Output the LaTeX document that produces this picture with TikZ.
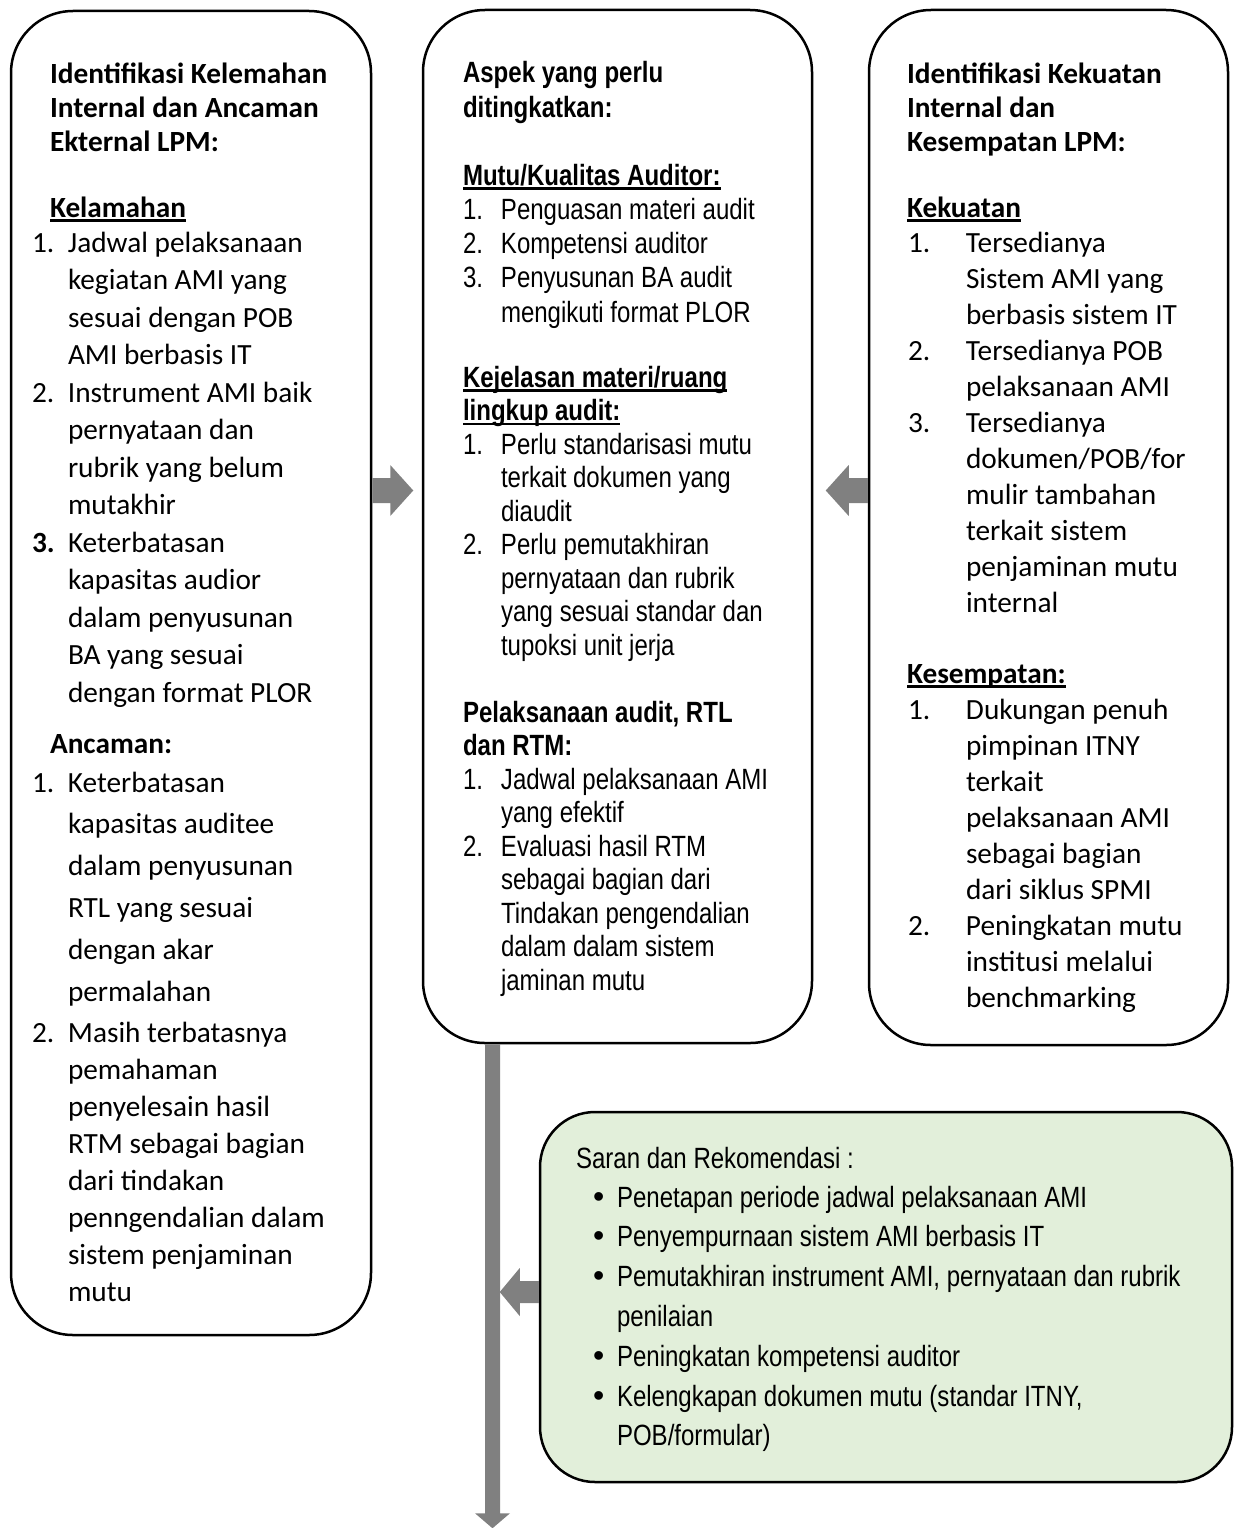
\documentclass[tikz,border=0pt]{standalone}
\usepackage{fontspec}
\setmainfont{Carlito}
\newfontfamily\arialn[FakeStretch=0.82]{Liberation Sans}
\newfontfamily\bulletfont{Liberation Sans}
\usetikzlibrary{calc}
\definecolor{arrowgray}{RGB}{128,128,128}
\definecolor{greenfill}{RGB}{226,239,218}
\newsavebox\ulbox
\newcommand\myul[1]{\sbox\ulbox{#1}\rlap{\rule[-4.5pt]{\wd\ulbox}{2.2pt}}\usebox\ulbox}
\newcommand\fl{\rule{0pt}{30pt}}
\newcommand\ind[1]{\hspace*{#1}}
\newcommand\bul{\makebox[23pt][l]{\hspace*{-1pt}\bulletfont\fontsize{32}{32}\selectfont •}}
\begin{document}
\begin{tikzpicture}[x=1pt,y=-1pt,
  box/.style={draw=black, line width=2.5pt, rounded corners=62pt, anchor=north west, inner sep=0pt, outer sep=0pt},
  cal/.style={anchor=north west, inner sep=0pt, outer sep=0pt, align=left, font=\fontsize{29.3}{#1}\selectfont},
  arn/.style={anchor=north west, inner sep=0pt, outer sep=0pt, align=left, font=\arialn\fontsize{29.3}{#1}\selectfont},
  blockarrow/.style={fill=arrowgray}]
\useasboundingbox (0,0) rectangle (1240,1528);

% boxes
\node[box, minimum width=360pt, minimum height=1324pt] (L) at (11,11) {};
\node[box, minimum width=389pt, minimum height=1033pt] (M) at (423,10) {};
\node[box, minimum width=359pt, minimum height=1035pt] (R) at (869,10) {};
\node[box, fill=greenfill, rounded corners=55pt, minimum width=692pt, minimum height=370pt] (G) at (540,1112) {};

% block arrows
\fill[blockarrow] ($(L.north east)+(1.25,467)$) -- ++(18,0) -- ++(0,-13) -- ++(23,25.5) -- ++(-23,25.5) -- ++(0,-13) -- ++(-18,0) -- cycle;
\fill[blockarrow] ($(R.north west)+(-1.25,468)$) -- ++(-19,0) -- ++(0,-13) -- ++(-23,25.5) -- ++(23,25.5) -- ++(0,-13) -- ++(19,0) -- cycle;
\fill[blockarrow] ($(M.south west)+(62,1.25)$) -- ++(15,0) -- ++(0,469) -- ++(10,0) -- ++(-17.5,15) -- ++(-17.5,-15) -- ++(10,0) -- cycle;
\fill[blockarrow] ($(G.north west)+(-1.25,169)$) -- ++(-19,0) -- ++(0,-13) -- ++(-20,24) -- ++(20,24) -- ++(0,-13) -- ++(19,0) -- cycle;

% left box text
\node[cal=34] (lh) at (50,53) {\fl\textbf{Identifikasi Kelemahan}\\\textbf{Internal dan Ancaman}\\\textbf{Ekternal LPM:}};
\node[cal=37.5] (lk) at (50,187) {\fl\textbf{\myul{Kelamahan}}};
\node[cal=37.5] (ll) at (32,222) {\fl\makebox[36pt][l]{1.}Jadwal pelaksanaan\\\ind{36pt}kegiatan AMI yang\\\ind{36pt}sesuai dengan POB\\\ind{36pt}AMI berbasis IT\\
\makebox[36pt][l]{2.}Instrument AMI baik\\\ind{36pt}pernyataan dan\\\ind{36pt}rubrik yang belum\\\ind{36pt}mutakhir\\
\makebox[36pt][l]{\textbf{3.}}Keterbatasan\\\ind{36pt}kapasitas audior\\\ind{36pt}dalam penyusunan\\\ind{36pt}BA yang sesuai\\\ind{36pt}dengan format PLOR};
\node[cal=37.5] (la) at (50,723) {\fl\textbf{Ancaman:}};
\node[cal=41.8] (la1) at (32,762) {\fl\makebox[36pt][l]{1.}Keterbatasan\\\ind{36pt}kapasitas auditee\\\ind{36pt}dalam penyusunan\\\ind{36pt}RTL yang sesuai\\\ind{36pt}dengan akar\\\ind{36pt}permalahan};
\node[cal=37] (la2) at (32,1012) {\fl\makebox[36pt][l]{2.}Masih terbatasnya\\\ind{36pt}pemahaman\\\ind{36pt}penyelesain hasil\\\ind{36pt}RTM sebagai bagian\\\ind{36pt}dari tindakan\\\ind{36pt}penngendalian dalam\\\ind{36pt}sistem penjaminan\\\ind{36pt}mutu};

% middle box text
\node[arn=35] (mh) at (463,52) {\fl\textbf{Aspek yang perlu}\\\textbf{ditingkatkan:}};
\node[arn=34.3] (mq) at (463,155) {\fl\textbf{\myul{Mutu/Kualitas Auditor:}}\\
\makebox[38pt][l]{1.}Penguasan materi audit\\\makebox[38pt][l]{2.}Kompetensi auditor\\\makebox[38pt][l]{3.}Penyusunan BA audit\\\ind{38pt}mengikuti format PLOR};
\node[arn=33.5] (mk) at (463,357) {\fl\textbf{\myul{Kejelasan materi/ruang}}\\\textbf{\myul{lingkup audit:}}\\
\makebox[38pt][l]{1.}Perlu standarisasi mutu\\\ind{38pt}terkait dokumen yang\\\ind{38pt}diaudit\\
\makebox[38pt][l]{2.}Perlu pemutakhiran\\\ind{38pt}pernyataan dan rubrik\\\ind{38pt}yang sesuai standar dan\\\ind{38pt}tupoksi unit jerja};
\node[arn=33.5] (mp) at (463,692) {\fl\textbf{Pelaksanaan audit, RTL}\\\textbf{dan RTM:}\\
\makebox[38pt][l]{1.}Jadwal pelaksanaan AMI\\\ind{38pt}yang efektif\\
\makebox[38pt][l]{2.}Evaluasi hasil RTM\\\ind{38pt}sebagai bagian dari\\\ind{38pt}Tindakan pengendalian\\\ind{38pt}dalam dalam sistem\\\ind{38pt}jaminan mutu};

% right box text
\node[cal=34] (rh) at (907,53) {\fl\textbf{Identifikasi Kekuatan}\\\textbf{Internal dan}\\\textbf{Kesempatan LPM:}};
\node[cal=36] (rk) at (907,187) {\fl\textbf{\myul{Kekuatan}}};
\node[cal=36] (rl) at (908,222) {\fl\makebox[58pt][l]{1.}Tersedianya\\\ind{58pt}Sistem AMI yang\\\ind{58pt}berbasis sistem IT\\
\makebox[58pt][l]{2.}Tersedianya POB\\\ind{58pt}pelaksanaan AMI\\
\makebox[58pt][l]{3.}Tersedianya\\\ind{58pt}dokumen/POB/for\\\ind{58pt}mulir tambahan\\\ind{58pt}terkait sistem\\\ind{58pt}penjaminan mutu\\\ind{58pt}internal};
\node[cal=36] (rs) at (907,653) {\fl\textbf{\myul{Kesempatan:}}};
\node[cal=36] (rsl) at (908,689) {\fl\makebox[58pt][l]{1.}Dukungan penuh\\\ind{58pt}pimpinan ITNY\\\ind{58pt}terkait\\\ind{58pt}pelaksanaan AMI\\\ind{58pt}sebagai bagian\\\ind{58pt}dari siklus SPMI\\
\makebox[58pt][l]{2.}Peningkatan mutu\\\ind{58pt}institusi melalui\\\ind{58pt}benchmarking};

% green box text
\node[arn=39] (gs) at (576,1138) {\fl Saran dan Rekomendasi :};
\node[arn=39.8] (gl) at (594,1177) {\fl\bul Penetapan periode jadwal pelaksanaan AMI\\
\bul Penyempurnaan sistem AMI berbasis IT\\
\bul Pemutakhiran instrument AMI, pernyataan dan rubrik\\\ind{23pt}penilaian\\
\bul Peningkatan kompetensi auditor\\
\bul Kelengkapan dokumen mutu (standar ITNY,\\\ind{23pt}POB/formular)};
\end{tikzpicture}
\end{document}
